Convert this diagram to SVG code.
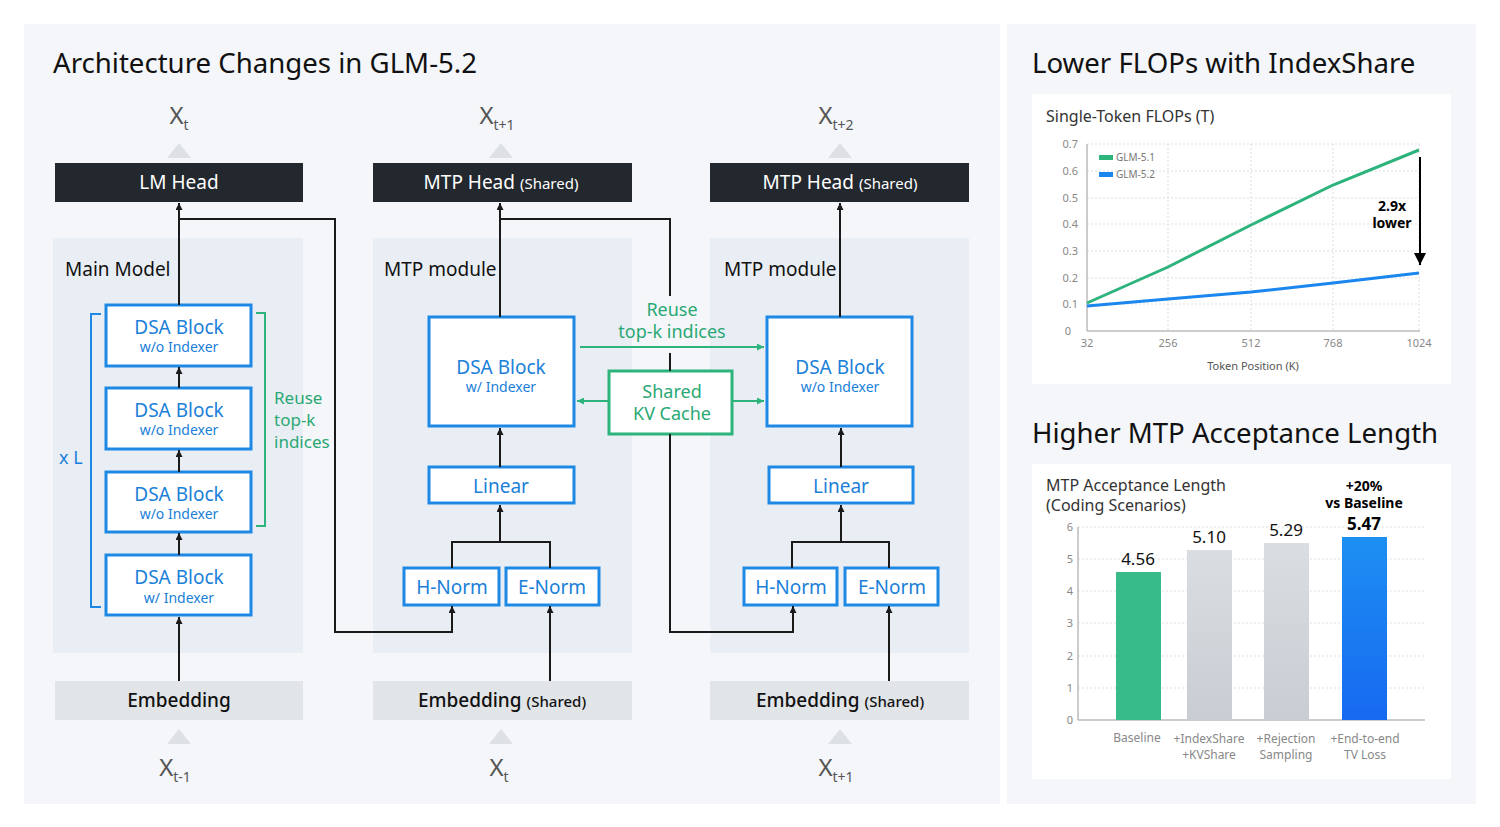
<svg xmlns="http://www.w3.org/2000/svg" width="1500" height="827" viewBox="0 0 1500 827">
<style>
text{font-family:"Noto Sans","Liberation Sans",sans-serif}
.ttl{font-size:27.6px;fill:#111}
.panel{fill:#e9eef5}
.bg{fill:#f4f6f9}
.head{fill:#23272e}
.headt{fill:#fff;font-size:19px;text-anchor:middle}
.sm{font-size:15px}
.emb{fill:#e2e5e8}
.embt{fill:#111;font-size:19px;text-anchor:middle;font-weight:500}
.tri{fill:#dde1e4}
.xl{fill:#555;font-size:24px;text-anchor:middle}
.sub{font-size:14px}
.lbl{fill:#111;font-size:19px}
.bbox{fill:#fff;stroke:#1e88e5;stroke-width:3}
.bt{fill:#1a80d9;font-size:19px;text-anchor:middle}
.bs{fill:#1a80d9;font-size:14px;text-anchor:middle}
.gbox{fill:#fff;stroke:#2db37c;stroke-width:3}
.gt{fill:#2aa874;font-size:18px;text-anchor:middle}
.ln{fill:none;stroke:#1a1a1a;stroke-width:2}
.gln{fill:none;stroke:#2db37c;stroke-width:2}
.card{fill:#fff}
.ct{fill:#333;font-size:16px}
.ax{fill:#888;font-size:11px}
.grid{stroke:#dcdfe3;stroke-width:1;stroke-dasharray:2 2}
.axis{stroke:#bbb;stroke-width:1.5}
.cat{fill:#888;font-size:12px;text-anchor:middle}
</style>
<defs>
<marker id="ab" viewBox="0 0 10 10" refX="10" refY="5" markerWidth="7" markerHeight="7" markerUnits="userSpaceOnUse" orient="auto"><path d="M0,0 L10,5 L0,10 z" fill="#1a1a1a"/></marker>
<marker id="ag" viewBox="0 0 10 10" refX="10" refY="5" markerWidth="7" markerHeight="7" markerUnits="userSpaceOnUse" orient="auto"><path d="M0,0 L10,5 L0,10 z" fill="#2db37c"/></marker>
<marker id="ak" viewBox="0 0 10 10" refX="10" refY="5" markerWidth="12" markerHeight="12" markerUnits="userSpaceOnUse" orient="auto"><path d="M0,0 L10,5 L0,10 z" fill="#000"/></marker>
<linearGradient id="gg" x1="0" y1="0" x2="0" y2="1"><stop offset="0" stop-color="#dadde1"/><stop offset="1" stop-color="#c9cdd3"/></linearGradient>
<linearGradient id="gb" x1="0" y1="0" x2="0" y2="1"><stop offset="0" stop-color="#1d8ff2"/><stop offset="1" stop-color="#1769f0"/></linearGradient>
</defs>
<rect width="1500" height="827" fill="#fff"/>
<rect class="bg" x="24" y="24" width="976" height="780"/>
<rect class="bg" x="1007" y="24" width="469" height="780"/>
<text class="ttl" x="53" y="73">Architecture Changes in GLM-5.2</text>
<text class="ttl" x="1032" y="73">Lower FLOPs with IndexShare</text>
<text class="ttl" x="1032" y="443">Higher MTP Acceptance Length</text>

<!-- panels -->
<rect class="panel" x="53" y="238" width="250" height="415"/>
<rect class="panel" x="373" y="238" width="259" height="415"/>
<rect class="panel" x="710" y="238" width="259" height="415"/>

<!-- Column 1 -->
<g id="xt-top">
<polygon class="tri" points="167,158 191,158 179,143"/>
<text class="xl" x="179" y="124">X<tspan class="sub" dy="6">t</tspan></text>
</g>
<g id="lm-head"><rect class="head" x="55" y="163" width="248" height="39"/><text class="headt" x="179" y="189">LM Head</text></g>
<text class="lbl" x="65" y="276">Main Model</text>
<g id="dsa1"><rect class="bbox" x="106" y="305" width="145" height="61"/><text class="bt" x="179" y="334">DSA Block</text><text class="bs" x="179" y="352">w/o Indexer</text></g>
<g id="dsa2"><rect class="bbox" x="106" y="388" width="145" height="61"/><text class="bt" x="179" y="417">DSA Block</text><text class="bs" x="179" y="435">w/o Indexer</text></g>
<g id="dsa3"><rect class="bbox" x="106" y="472" width="145" height="60"/><text class="bt" x="179" y="501">DSA Block</text><text class="bs" x="179" y="519">w/o Indexer</text></g>
<g id="dsa4"><rect class="bbox" x="106" y="555" width="145" height="60"/><text class="bt" x="179" y="584">DSA Block</text><text class="bs" x="179" y="603">w/ Indexer</text></g>
<g id="xl-bracket"><path d="M101,314 H91 V607 H101" fill="none" stroke="#1e88e5" stroke-width="2"/><text x="59" y="464" fill="#1a80d9" font-size="18">x L</text></g>
<g id="reuse1"><path class="gln" d="M256,313 H265 V526 H256"/><text x="274" y="404" fill="#2aa874" font-size="17">Reuse</text><text x="274" y="426" fill="#2aa874" font-size="17">top-k</text><text x="274" y="448" fill="#2aa874" font-size="17">indices</text></g>
<g id="emb1"><rect class="emb" x="55" y="681" width="248" height="39"/><text class="embt" x="179" y="707">Embedding</text></g>
<g id="xt-bot1"><polygon class="tri" points="167,744 191,744 179,729"/><text class="xl" x="175" y="776">X<tspan class="sub" dy="6">t-1</tspan></text></g>

<!-- Column 2 -->
<g id="xt1-top"><polygon class="tri" points="489,158 513,158 501,143"/><text class="xl" x="497" y="124">X<tspan class="sub" dy="6">t+1</tspan></text></g>
<g id="mtp-head1"><rect class="head" x="373" y="163" width="259" height="39"/><text class="headt" x="501" y="189">MTP Head <tspan class="sm">(Shared)</tspan></text></g>
<text class="lbl" x="384" y="276">MTP module</text>
<g id="dsa-m1"><rect class="bbox" x="429" y="317" width="145" height="109"/><text class="bt" x="501" y="374">DSA Block</text><text class="bs" x="501" y="392">w/ Indexer</text></g>
<g id="lin1"><rect class="bbox" x="429" y="467" width="145" height="36"/><text class="bt" x="501" y="493">Linear</text></g>
<g id="hn1"><rect class="bbox" x="404" y="568" width="95" height="37"/><text class="bt" x="452" y="594">H-Norm</text></g>
<g id="en1"><rect class="bbox" x="506" y="568" width="93" height="37"/><text class="bt" x="552" y="594">E-Norm</text></g>
<g id="emb2"><rect class="emb" x="373" y="681" width="259" height="39"/><text class="embt" x="502" y="707">Embedding <tspan class="sm">(Shared)</tspan></text></g>
<g id="xt-bot2"><polygon class="tri" points="489,744 513,744 501,729"/><text class="xl" x="499" y="776">X<tspan class="sub" dy="6">t</tspan></text></g>

<!-- middle shared -->
<g id="reuse2"><text class="gt" x="672" y="316">Reuse</text><text class="gt" x="672" y="338">top-k indices</text></g>
<g id="kv"><rect class="gbox" x="609" y="371" width="123" height="63"/><text class="gt" x="672" y="398">Shared</text><text class="gt" x="672" y="420">KV Cache</text></g>

<!-- Column 3 -->
<g id="xt2-top"><polygon class="tri" points="828,158 852,158 840,143"/><text class="xl" x="836" y="124">X<tspan class="sub" dy="6">t+2</tspan></text></g>
<g id="mtp-head2"><rect class="head" x="710" y="163" width="259" height="39"/><text class="headt" x="840" y="189">MTP Head <tspan class="sm">(Shared)</tspan></text></g>
<text class="lbl" x="724" y="276">MTP module</text>
<g id="dsa-m2"><rect class="bbox" x="767" y="317" width="145" height="109"/><text class="bt" x="840" y="374">DSA Block</text><text class="bs" x="840" y="392">w/o Indexer</text></g>
<g id="lin2"><rect class="bbox" x="769" y="467" width="144" height="36"/><text class="bt" x="841" y="493">Linear</text></g>
<g id="hn2"><rect class="bbox" x="744" y="568" width="93" height="37"/><text class="bt" x="791" y="594">H-Norm</text></g>
<g id="en2"><rect class="bbox" x="845" y="568" width="93" height="37"/><text class="bt" x="892" y="594">E-Norm</text></g>
<g id="emb3"><rect class="emb" x="710" y="681" width="259" height="39"/><text class="embt" x="840" y="707">Embedding <tspan class="sm">(Shared)</tspan></text></g>
<g id="xt-bot3"><polygon class="tri" points="828,744 852,744 840,729"/><text class="xl" x="836" y="776">X<tspan class="sub" dy="6">t+1</tspan></text></g>

<!-- connectors -->
<g id="connectors">
<path class="ln" d="M179,305 V203" marker-end="url(#ab)"/>
<path class="ln" d="M179,219 H335 V632 H452 V606" marker-end="url(#ab)"/>
<path class="ln" d="M179,388 V367" marker-end="url(#ab)"/>
<path class="ln" d="M179,472 V450" marker-end="url(#ab)"/>
<path class="ln" d="M179,555 V533" marker-end="url(#ab)"/>
<path class="ln" d="M179,681 V617" marker-end="url(#ab)"/>
<path class="ln" d="M500,317 V203" marker-end="url(#ab)"/>
<path class="ln" d="M500,219 H670 V296"/>
<path class="ln" d="M670,353 V371"/>
<path class="ln" d="M670,434 V632 H793 V606" marker-end="url(#ab)"/>
<path class="ln" d="M500,467 V428" marker-end="url(#ab)"/>
<path class="ln" d="M452,568 V542 H550 V568"/>
<path class="ln" d="M500,542 V505" marker-end="url(#ab)"/>
<path class="ln" d="M550,681 V606" marker-end="url(#ab)"/>
<path class="ln" d="M840,317 V203" marker-end="url(#ab)"/>
<path class="ln" d="M841,467 V428" marker-end="url(#ab)"/>
<path class="ln" d="M792,568 V542 H889 V568"/>
<path class="ln" d="M841,542 V505" marker-end="url(#ab)"/>
<path class="ln" d="M889,681 V606" marker-end="url(#ab)"/>
<path class="gln" d="M580,347 H764" marker-end="url(#ag)"/>
<path class="gln" d="M609,401 H577" marker-end="url(#ag)"/>
<path class="gln" d="M732,401 H764" marker-end="url(#ag)"/>
</g>

<!-- Line chart -->
<g id="flops-chart">
<rect class="card" x="1032" y="94" width="419" height="290"/>
<text class="ct" x="1046" y="122">Single-Token FLOPs (T)</text>
<g>
<line class="grid" x1="1087" y1="144" x2="1420" y2="144"/>
<line class="grid" x1="1087" y1="171" x2="1420" y2="171"/>
<line class="grid" x1="1087" y1="198" x2="1420" y2="198"/>
<line class="grid" x1="1087" y1="224" x2="1420" y2="224"/>
<line class="grid" x1="1087" y1="251" x2="1420" y2="251"/>
<line class="grid" x1="1087" y1="278" x2="1420" y2="278"/>
<line class="grid" x1="1087" y1="304" x2="1420" y2="304"/>
<line class="grid" x1="1168" y1="144" x2="1168" y2="331"/>
<line class="grid" x1="1251" y1="144" x2="1251" y2="331"/>
<line class="grid" x1="1333" y1="144" x2="1333" y2="331"/>
<line class="grid" x1="1419" y1="144" x2="1419" y2="331"/>
<line class="axis" x1="1087" y1="144" x2="1087" y2="331"/>
<line class="axis" x1="1087" y1="331" x2="1420" y2="331"/>
</g>
<g class="ax" text-anchor="end">
<text x="1078" y="148">0.7</text><text x="1078" y="175">0.6</text><text x="1078" y="202">0.5</text><text x="1078" y="228">0.4</text><text x="1078" y="255">0.3</text><text x="1078" y="282">0.2</text><text x="1078" y="308">0.1</text><text x="1071" y="335">0</text>
</g>
<g class="ax" text-anchor="middle">
<text x="1087" y="347">32</text><text x="1168" y="347">256</text><text x="1251" y="347">512</text><text x="1333" y="347">768</text><text x="1419" y="347">1024</text>
</g>
<text x="1253" y="370" fill="#555" font-size="11" text-anchor="middle">Token Position (K)</text>
<polyline points="1087,303 1168,267 1251,225 1333,185 1419,150" fill="none" stroke="#2db37c" stroke-width="3"/>
<polyline points="1087,306 1168,299 1251,292 1333,283 1419,273" fill="none" stroke="#1a86ee" stroke-width="3"/>
<rect x="1099" y="155" width="14" height="5" fill="#2db37c"/><text x="1116" y="161" fill="#777" font-size="10">GLM-5.1</text>
<rect x="1099" y="172" width="14" height="5" fill="#1a86ee"/><text x="1116" y="178" fill="#777" font-size="10">GLM-5.2</text>
<line x1="1420" y1="157" x2="1420" y2="265" stroke="#000" stroke-width="2" marker-end="url(#ak)"/>
<text x="1392" y="211" fill="#000" font-size="14" font-weight="bold" text-anchor="middle">2.9x</text>
<text x="1392" y="228" fill="#000" font-size="14" font-weight="bold" text-anchor="middle">lower</text>
</g>

<!-- Bar chart -->
<g id="mtp-chart">
<rect class="card" x="1032" y="464" width="419" height="315"/>
<text class="ct" x="1046" y="491">MTP Acceptance Length</text>
<text class="ct" x="1046" y="511">(Coding Scenarios)</text>
<g>
<line class="grid" x1="1078" y1="527" x2="1425" y2="527"/>
<line class="grid" x1="1078" y1="559" x2="1425" y2="559"/>
<line class="grid" x1="1078" y1="591" x2="1425" y2="591"/>
<line class="grid" x1="1078" y1="623" x2="1425" y2="623"/>
<line class="grid" x1="1078" y1="656" x2="1425" y2="656"/>
<line class="grid" x1="1078" y1="688" x2="1425" y2="688"/>
<line class="axis" x1="1078" y1="527" x2="1078" y2="720"/>
<line class="axis" x1="1078" y1="720" x2="1425" y2="720"/>
</g>
<g class="ax" text-anchor="end">
<text x="1073" y="531">6</text><text x="1073" y="563">5</text><text x="1073" y="595">4</text><text x="1073" y="627">3</text><text x="1073" y="660">2</text><text x="1073" y="692">1</text><text x="1073" y="724">0</text>
</g>
<rect x="1116" y="572" width="45" height="148" fill="#37bb89"/>
<rect x="1187" y="550" width="45" height="170" fill="url(#gg)"/>
<rect x="1264" y="543" width="45" height="177" fill="url(#gg)"/>
<rect x="1342" y="537" width="45" height="183" fill="url(#gb)"/>
<text x="1138" y="565" fill="#111" font-size="17" text-anchor="middle">4.56</text>
<text x="1209" y="543" fill="#111" font-size="17" text-anchor="middle">5.10</text>
<text x="1286" y="536" fill="#111" font-size="17" text-anchor="middle">5.29</text>
<text x="1364" y="530" fill="#000" font-size="17" font-weight="bold" text-anchor="middle">5.47</text>
<text x="1364" y="491" fill="#000" font-size="14" font-weight="bold" text-anchor="middle">+20%</text>
<text x="1364" y="508" fill="#000" font-size="14" font-weight="bold" text-anchor="middle">vs Baseline</text>
<text class="cat" x="1137" y="742">Baseline</text>
<text class="cat" x="1209" y="743">+IndexShare</text><text class="cat" x="1209" y="759">+KVShare</text>
<text class="cat" x="1286" y="743">+Rejection</text><text class="cat" x="1286" y="759">Sampling</text>
<text class="cat" x="1365" y="743">+End-to-end</text><text class="cat" x="1365" y="759">TV Loss</text>
</g>
</svg>
